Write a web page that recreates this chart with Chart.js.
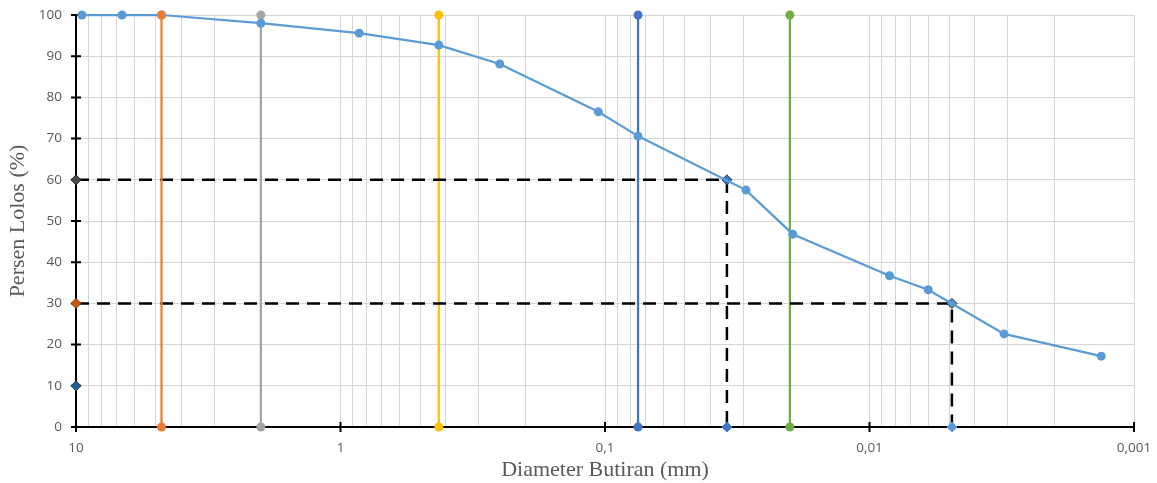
<!DOCTYPE html>
<html>
<head>
<meta charset="utf-8">
<script src="https://cdn.jsdelivr.net/npm/chart.js@4.4.1/dist/chart.umd.min.js"></script>
<style>
  html, body { margin: 0; padding: 0; background: #fff; }
  #wrap { width: 1157px; height: 483px; }
</style>
</head>
<body>
<div id="wrap"><canvas id="c" width="1157" height="483"></canvas></div>
<script>
// Grain size distribution (hydrometer + sieve)
const grainSize    = [9.5, 6.7, 4.75, 2.0, 0.85, 0.425, 0.25, 0.106, 0.075, 0.0293, 0.0195, 0.0084, 0.006, 0.0031, 0.00133];
const percentFiner = [100, 100, 100, 98, 95.6, 92.7, 88.1, 76.5, 70.6, 57.5, 46.8, 36.7, 33.3, 22.6, 17.2];

// Soil classification boundaries (mm)
const boundarySizes  = [4.75, 2.0, 0.425, 0.075, 0.02];
const boundaryColors = ['#ED7D31', '#A5A5A5', '#FFC000', '#4472C4', '#70AD47'];

// Characteristic diameters
const d60 = 0.0346;
const d30 = 0.00488;
const dLevels = [60, 30, 10];

// Axis ticks
const xDecades      = [10, 1, 0.1, 0.01, 0.001];
const xDecadeLabels = ['10', '1', '0,1', '0,01', '0,001'];
const yTicks        = [0, 10, 20, 30, 40, 50, 60, 70, 80, 90, 100];

// Minor grid lines at 1..9 x each decade
const xGridValues = [];
xDecades.slice(1).forEach(dec => {
  for (let m = 1; m <= 9; m++) xGridValues.push(+(dec * m).toPrecision(6));
});
xGridValues.push(10);

function decadeLabel(v) {
  for (let i = 0; i < xDecades.length; i++) {
    if (Math.abs(v - xDecades[i]) / xDecades[i] < 1e-6) return xDecadeLabels[i];
  }
  return '';
}

const datasets = [];

// main gradation curve
datasets.push({
  label: 'Gradasi',
  data: grainSize.map((d, i) => ({ x: d, y: percentFiner[i] })),
  borderColor: '#5B9BD5',
  backgroundColor: '#5B9BD5',
  borderWidth: 2.25,
  pointRadius: 4.5,
  pointBorderWidth: 0,
  pointBackgroundColor: '#5B9BD5',
  showLine: true,
  tension: 0,
  clip: false,
  order: 1
});

// vertical boundary lines
boundarySizes.forEach((b, i) => {
  datasets.push({
    label: 'Batas ' + b,
    data: [{ x: b, y: 0 }, { x: b, y: 100 }],
    borderColor: boundaryColors[i],
    backgroundColor: boundaryColors[i],
    pointBackgroundColor: boundaryColors[i],
    pointBorderWidth: 0,
    borderWidth: 2.25,
    pointRadius: 4.5,
    showLine: true,
    clip: false,
    order: i === 0 ? 0 : 2
  });
});

// D60 construction
datasets.push({
  label: 'D60',
  data: [{ x: 10, y: dLevels[0] }, { x: d60, y: dLevels[0] }, { x: d60, y: 0 }],
  borderColor: '#000',
  borderWidth: 2.5,
  borderDash: [13, 8],
  showLine: true,
  pointStyle: 'rectRot',
  pointRadius: 5,
  pointBackgroundColor: ['#4A4A4A', '#4472C4', '#4472C4'],
  pointBorderColor: ['#262626', '#1F3864', '#4472C4'],
  pointBorderWidth: 1,
  clip: false,
  order: 1
});

// D30 construction
datasets.push({
  label: 'D30',
  data: [{ x: 10, y: dLevels[1] }, { x: d30, y: dLevels[1] }, { x: d30, y: 0 }],
  borderColor: '#000',
  borderWidth: 2.5,
  borderDash: [13, 8],
  showLine: true,
  pointStyle: 'rectRot',
  pointRadius: 5,
  pointBackgroundColor: ['#C55A11', '#5B9BD5', '#5B9BD5'],
  pointBorderColor: ['#843C0C', '#262626', '#5B9BD5'],
  pointBorderWidth: 1,
  clip: false,
  order: 1
});

// D10 marker
datasets.push({
  label: 'D10',
  data: [{ x: 10, y: dLevels[2] }],
  showLine: false,
  pointStyle: 'rectRot',
  pointRadius: 5,
  pointBackgroundColor: '#255E91',
  pointBorderColor: '#1B4569',
  pointBorderWidth: 1,
  clip: false,
  order: 1
});

// cross-style tick marks on both axes
const crossTicks = {
  id: 'crossTicks',
  beforeDatasetsDraw(chart) {
    const { ctx, chartArea, scales } = chart;
    ctx.save();
    ctx.strokeStyle = '#000';
    ctx.lineWidth = 2;
    ctx.beginPath();
    xDecades.forEach(v => {
      const px = scales.x.getPixelForValue(v);
      ctx.moveTo(px, chartArea.bottom - 5);
      ctx.lineTo(px, chartArea.bottom + 5);
    });
    yTicks.forEach(v => {
      const py = scales.y.getPixelForValue(v);
      ctx.moveTo(chartArea.left - 5, py);
      ctx.lineTo(chartArea.left + 5, py);
    });
    ctx.stroke();
    ctx.restore();
  }
};

const tickFont = { family: 'Open Sans', size: 13.5 };
const titleFont = { family: 'Liberation Serif', size: 22 };

new Chart(document.getElementById('c'), {
  type: 'scatter',
  data: { datasets },
  plugins: [crossTicks],
  options: {
    responsive: false,
    animation: false,
    devicePixelRatio: 1,
    layout: { padding: { left: 0, right: 23, top: 15, bottom: 0 } },
    plugins: {
      legend: { display: false },
      tooltip: { enabled: false }
    },
    scales: {
      x: {
        type: 'logarithmic',
        reverse: true,
        min: 0.001,
        max: 10,
        afterBuildTicks(scale) {
          scale.ticks = xGridValues.map(v => ({ value: v }));
        },
        afterFit(scale) {
          scale.height = 56;
          scale.paddingLeft = 0;
          scale.paddingRight = 0;
        },
        grid: { color: '#D6D6D6', lineWidth: 1, drawTicks: false },
        border: { display: true, color: '#000', width: 2 },
        ticks: {
          autoSkip: false,
          maxRotation: 0,
          padding: 13,
          color: '#595959',
          font: tickFont,
          callback: (v) => decadeLabel(v)
        },
        title: {
          display: true,
          text: 'Diameter Butiran (mm)',
          color: '#595959',
          font: titleFont,
          padding: { top: 0, bottom: 0 }
        }
      },
      y: {
        min: 0,
        max: 100,
        afterBuildTicks(scale) {
          scale.ticks = yTicks.map(v => ({ value: v }));
        },
        afterFit(scale) {
          scale.width = 76;
          scale.paddingTop = 0;
          scale.paddingBottom = 0;
        },
        grid: { color: '#D6D6D6', lineWidth: 1, drawTicks: false },
        border: { display: true, color: '#000', width: 2 },
        ticks: {
          padding: 14,
          color: '#595959',
          font: tickFont
        },
        title: {
          display: true,
          text: 'Persen Lolos (%)',
          color: '#595959',
          font: titleFont,
          padding: { top: 5, bottom: 0 }
        }
      }
    }
  }
});
</script>
</body>
</html>
